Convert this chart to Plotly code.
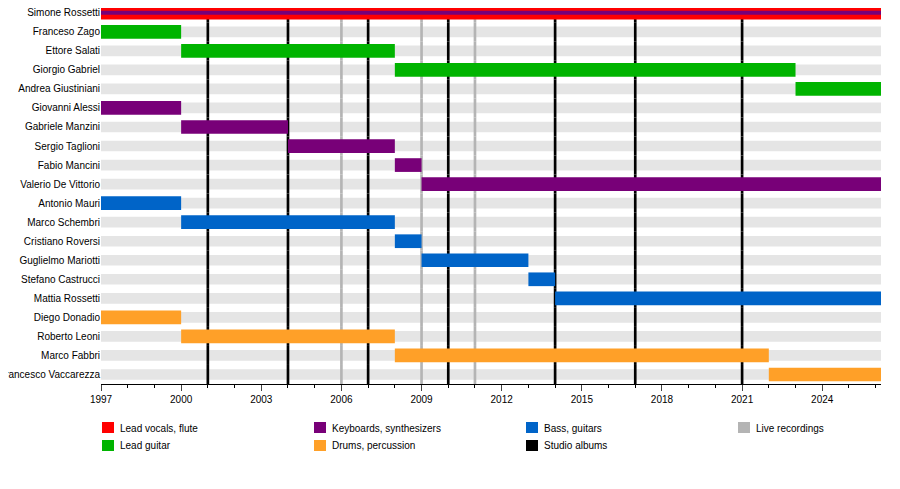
import plotly.graph_objects as go

END = 2026.2
members = ["Simone Rossetti","Franceso Zago","Ettore Salati","Giorgio Gabriel","Andrea Giustiniani",
           "Giovanni Alessi","Gabriele Manzini","Sergio Taglioni","Fabio Mancini","Valerio De Vittorio",
           "Antonio Mauri","Marco Schembri","Cristiano Roversi","Guglielmo Mariotti","Stefano Castrucci",
           "Mattia Rossetti","Diego Donadio","Roberto Leoni","Marco Fabbri","Francesco Vaccarezza"]
starts = [1997,1997,2000,2008,2023,1997,2000,2004,2008,2009,1997,2000,2008,2009,2013,2014,1997,2000,2008,2022]
ends   = [END,2000,2008,2023,END,2000,2004,2008,2009,END,2000,2008,2009,2013,2014,END,2000,2008,2022,END]
roles  = ["vocals","guitar","guitar","guitar","guitar","keys","keys","keys","keys","keys",
          "bass","bass","bass","bass","bass","bass","drums","drums","drums","drums"]
studio_albums = [2001,2004,2007,2010,2014,2017,2021]
live_albums = [2006,2009,2011]

colors = {"vocals":"#ff0000","guitar":"#00b400","keys":"#780078","bass":"#0064c8",
          "drums":"#ffa028"}

L, R, B = 93, 27, 113
PW, PH = 900 - L - R, 489 - B

fig = go.Figure()
fig.add_trace(go.Bar(orientation="h", y=members, x=[END-1997]*len(members), base=[1997]*len(members),
    marker=dict(color="#e5e5e5", line_width=0), width=0.56, showlegend=False, hoverinfo="skip"))
for yr, c in [(y, "#b4b4b4") for y in live_albums] + [(y, "#000000") for y in studio_albums]:
    fig.add_trace(go.Bar(orientation="h", y=members, x=[0.1]*len(members), base=[yr-0.05]*len(members),
        marker=dict(color=c, line_width=0), width=1.0, showlegend=False, hoverinfo="skip"))
for r in ["vocals","guitar","keys","bass","drums"]:
    idx = [i for i in range(len(members)) if roles[i]==r]
    fig.add_trace(go.Bar(orientation="h", y=[members[i] for i in idx],
        x=[ends[i]-starts[i] for i in idx], base=[starts[i] for i in idx],
        marker=dict(color=colors[r], line_width=0), width=0.72,
        showlegend=False, hoverinfo="skip"))
fig.add_trace(go.Bar(orientation="h", y=[members[0]], x=[ends[0]-starts[0]], base=[starts[0]],
    marker=dict(color=colors["keys"], line_width=0), width=0.2, showlegend=False, hoverinfo="skip"))

legend_items = [("Lead vocals, flute",colors["vocals"]),("Lead guitar",colors["guitar"]),
                ("Keyboards, synthesizers",colors["keys"]),("Drums, percussion",colors["drums"]),
                ("Bass, guitars",colors["bass"]),("Studio albums","#000000"),
                ("Live recordings","#b4b4b4")]
col_x = [94, 306, 518, 730]
for k,(name,c) in enumerate(legend_items):
    x0 = col_x[k//2]; yc = 420 + 18*(k%2)
    fig.add_shape(type="rect", xref="paper", yref="paper",
                  x0=(x0-L)/PW, x1=(x0+12-L)/PW,
                  y0=(PH-(yc+5))/PH, y1=(PH-(yc-6))/PH,
                  fillcolor=c, line_width=0)
    fig.add_annotation(xref="paper", yref="paper", x=(x0+16-L)/PW, y=(PH-yc)/PH,
                       text=name, showarrow=False, xanchor="left", yanchor="middle",
                       font=dict(size=10))

fig.update_layout(
    width=900, height=489, barmode="overlay", plot_bgcolor="white", paper_bgcolor="white",
    margin=dict(l=L, r=R, t=0, b=B), showlegend=False,
    font=dict(family="Liberation Sans, Arial", size=10, color="#000"),
    xaxis=dict(range=[1997, END], tickvals=list(range(1997,2026,3)), ticks="outside",
               ticklen=6, tickwidth=1, showgrid=False, zeroline=False, showline=True,
               linecolor="#000", linewidth=1,
               minor=dict(tickvals=list(range(1997,2027)), ticks="outside", ticklen=3, tickcolor="#000")),
    yaxis=dict(categoryorder="array", categoryarray=members, autorange=False, automargin=False,
               range=[len(members)-0.5, -0.25], showgrid=False, zeroline=False, ticks=""),
)
fig.write_html("out.html")
